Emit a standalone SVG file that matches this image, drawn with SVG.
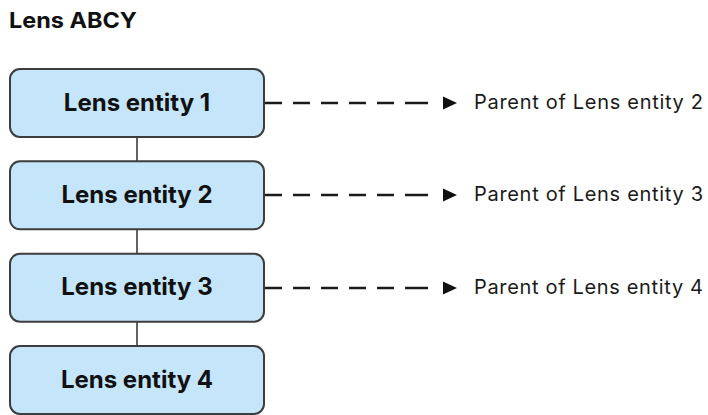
<svg xmlns="http://www.w3.org/2000/svg" width="708" height="415" viewBox="0 0 708 415">
<style>
.box{fill:#c5e5fb;stroke:#3d3d3d;stroke-width:2}
.btxt{font-family:Inter,"Liberation Sans",sans-serif;font-weight:700;font-size:24px;fill:#111;text-anchor:middle}
.lbl{font-family:Inter,"Liberation Sans",sans-serif;font-size:20px;fill:#1a1a1a}
.title{font-family:Inter,"Liberation Sans",sans-serif;font-weight:700;font-size:22px;fill:#111}
.vline{stroke:#3d3d3d;stroke-width:1.6;fill:none}
.dash{stroke:#1a1a1a;stroke-width:2.6;fill:none;stroke-dasharray:17 11 17 11 17 11 17 11 17 11 23 0}
.head{fill:#111}
</style>
<text class="title" x="9" y="27.5" textLength="128" lengthAdjust="spacingAndGlyphs">Lens ABCY</text>
<g id="connectors">
<line class="vline" x1="137" y1="138" x2="137" y2="161"/>
<line class="vline" x1="137" y1="230" x2="137" y2="254"/>
<line class="vline" x1="137" y1="322" x2="137" y2="346"/>
<line class="dash" x1="265" y1="103" x2="428" y2="103"/>
<path class="head" d="M443,96.5 L457,103 L443,109.5 Z"/>
<line class="dash" x1="265" y1="195" x2="428" y2="195"/>
<path class="head" d="M443,188.5 L457,195 L443,201.5 Z"/>
<line class="dash" x1="265" y1="288" x2="428" y2="288"/>
<path class="head" d="M443,281.5 L457,288 L443,294.5 Z"/>
</g>
<g id="node1">
<rect class="box" x="10" y="69" width="254" height="68" rx="10"/>
<text class="btxt" x="137" y="110.5">Lens entity 1</text>
</g>
<g id="node2">
<rect class="box" x="10" y="161.3" width="254" height="68" rx="10"/>
<text class="btxt" x="137" y="202.8">Lens entity 2</text>
</g>
<g id="node3">
<rect class="box" x="10" y="253.7" width="254" height="68" rx="10"/>
<text class="btxt" x="137" y="295.2">Lens entity 3</text>
</g>
<g id="node4">
<rect class="box" x="10" y="346" width="254" height="68" rx="10"/>
<text class="btxt" x="137" y="387.5">Lens entity 4</text>
</g>
<g id="label1"><text class="lbl" x="474" y="109" textLength="229" lengthAdjust="spacing">Parent of Lens entity 2</text></g>
<g id="label2"><text class="lbl" x="474" y="201" textLength="229" lengthAdjust="spacing">Parent of Lens entity 3</text></g>
<g id="label3"><text class="lbl" x="474" y="294" textLength="229" lengthAdjust="spacing">Parent of Lens entity 4</text></g>
</svg>
